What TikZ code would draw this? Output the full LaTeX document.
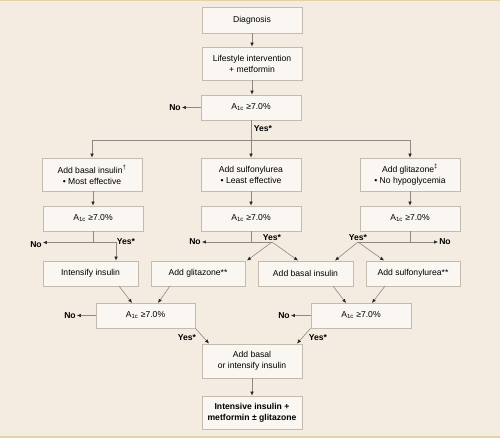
\documentclass[tikz,border=0pt]{standalone}
\usepackage{fontspec}
\setmainfont{Liberation Sans}
\usetikzlibrary{calc,arrows.meta,positioning}
\definecolor{bgtan}{HTML}{F4ECE0}
\definecolor{boxfill}{HTML}{FAF7F2}
\definecolor{boxline}{HTML}{C4BAAD}
\definecolor{rule}{HTML}{E4D1A6}
\definecolor{wire}{HTML}{8E8880}
\newcommand{\aone}{A\textsubscript{1c} ≥7.0\%}
\tikzset{
  box/.style={draw=boxline, fill=boxfill, line width=0.8pt, inner sep=0pt,
    align=center, font=\fontsize{8.6}{11}\selectfont},
  lbl/.style={font=\bfseries\fontsize{8.6}{10}\selectfont, inner sep=1pt},
  wireln/.style={draw=wire, line width=0.6pt},
  arr/.style={wireln, -{Latex[length=4pt,width=3.6pt,color=black!85]}}
}
\begin{document}
\begin{tikzpicture}[x=1pt, y=-1pt]
  \fill[bgtan] (0,0) rectangle (500,438);
  \fill[rule] (0,0) rectangle (500,1.5);
  \fill[rule] (0,436) rectangle (500,438);
  \useasboundingbox (0,0) rectangle (500,438);
  % top of the chart
  \node[box, minimum width=100pt, minimum height=26pt] (diag) at (252,20) {Diagnosis};
  \node[box, minimum width=100pt, minimum height=33pt] (life) at (252,63.5) {Lifestyle intervention\\+ metformin};
  \node[box, minimum width=100pt, minimum height=25pt] (chk) at (251,107.5) {\aone};
  \node[lbl] (no1) at (175,107.5) {No};
  \draw[arr] (diag) -- (life);
  \draw[arr] (life.south -| diag) -- (chk.north -| diag);
  \draw[arr] (chk.west) -- (no1.east);
  \coordinate (split) at (251,140);
  \node[lbl] (yes1) at (263,129) {Yes*};
  % three second-line choices
  \node[box, minimum width=100pt, minimum height=33pt] (basal) at (92,174.5) {Add basal insulin\textsuperscript{†}\\• Most effective};
  \node[box, minimum width=100pt, minimum height=33pt] (sulf) at (251,174.5) {Add sulfonylurea\\• Least effective};
  \node[box, minimum width=100pt, minimum height=33pt] (glit) at (410,174.5) {Add glitazone\textsuperscript{‡}\\• No hypoglycemia};
  \draw[wireln] (chk) -- (split);
  \draw[arr] (split) -| (basal);
  \draw[arr] (split) -| (glit);
  \draw[arr] (split) -- (sulf);
  \node[box, minimum width=100pt, minimum height=25pt] (chkL) at (93,218.5) {\aone};
  \node[box, minimum width=100pt, minimum height=25pt] (chkM) at (251,218.5) {\aone};
  \node[box, minimum width=100pt, minimum height=25pt] (chkR) at (410,218.5) {\aone};
  \draw[arr] (basal.south -| chkL) -- (chkL);
  \draw[arr] (sulf) -- (chkM);
  \draw[arr] (glit) -- (chkR);
  % third line
  \node[box, minimum width=95pt, minimum height=25pt] (intens) at (90.5,273.5) {Intensify insulin};
  \node[box, minimum width=94pt, minimum height=25pt] (addgl) at (198,273.5) {Add glitazone**};
  \node[box, minimum width=95pt, minimum height=25pt] (addba) at (305.5,273.5) {Add basal insulin};
  \node[box, minimum width=94pt, minimum height=25pt] (addsu) at (413,273.5) {Add sulfonylurea**};
  % left branch
  \coordinate (forkL) at (93,242.5);
  \coordinate (bendL) at (116,242.5);
  \node[lbl] (noL) at (36,244.5) {No};
  \node[lbl] (yesL) at (126,242) {Yes*};
  \draw[wireln] (chkL) -- (forkL);
  \draw[arr] (forkL) -- (noL.east |- forkL);
  \draw[arr] (forkL) -- (bendL) -- (bendL |- intens.north);
  % middle branch
  \coordinate (forkM) at (251,242);
  \coordinate (yM) at (272,242);
  \node[lbl] (noM) at (195,242) {No};
  \node[lbl, above=0pt] (yesM) at (272,242) {Yes*};
  \draw[wireln] (chkM) -- (forkM);
  \draw[arr] (yM) -- (noM);
  \draw[arr] (yM) -- (247,260.5);
  \draw[arr] (yM) -- (298,260.5);
  % right branch
  \coordinate (forkR) at (410,242);
  \coordinate (yR) at (358,242);
  \node[lbl] (noR) at (445,242) {No};
  \node[lbl, above=0pt] (yesR) at (358,242) {Yes*};
  \draw[wireln] (chkR) -- (forkR);
  \draw[arr] (yR) -- (noR);
  \draw[arr] (yR) -- (335,260.5);
  \draw[arr] (yR) -- (384,260.5);
  % fourth check
  \node[box, minimum width=99pt, minimum height=25pt] (chkA) at (145.5,315.5) {\aone};
  \node[box, minimum width=100pt, minimum height=25pt] (chkB) at (361,315.5) {\aone};
  \node[lbl] (noA) at (70,315.5) {No};
  \node[lbl] (noB) at (284,315.5) {No};
  \draw[arr] (chkA.west) -- (noA.east);
  \draw[arr] (chkB.west) -- (noB.east);
  \draw[arr] (119,286) -- (132,303);
  \draw[arr] (170,286) -- (158,303);
  \draw[arr] (333,286) -- (346,303);
  \draw[arr] (385,286) -- (372,303);
  % last steps
  \node[box, minimum width=100pt, minimum height=34pt] (orins) at (252,361) {Add basal\\or intensify insulin};
  \node[box, minimum width=100pt, minimum height=33pt, font=\bfseries\fontsize{8.6}{11}\selectfont] (final) at (252,412.5) {Intensive insulin +\\metformin ± glitazone};
  \node[lbl] (yesA) at (187,338) {Yes*};
  \node[lbl] (yesB) at (318,338) {Yes*};
  \draw[arr] (chkA.south east) -- (209,343.5);
  \draw[arr] (chkB.south west) -- (297,343.5);
  \draw[arr] (orins) -- (final);
\end{tikzpicture}
\end{document}
